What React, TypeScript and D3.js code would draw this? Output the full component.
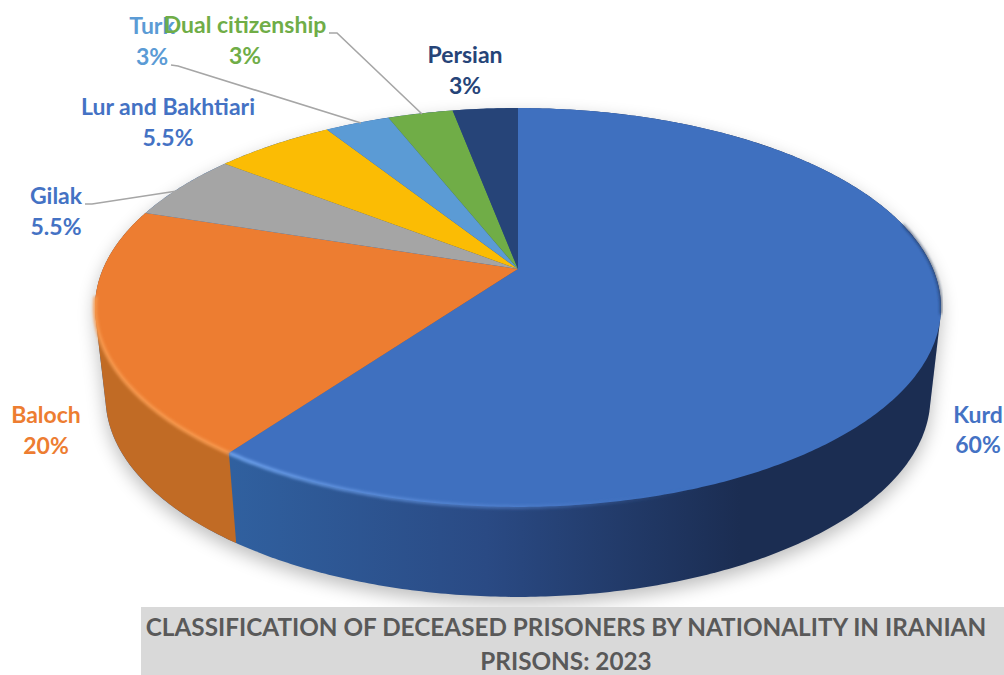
import React from "react";
import * as d3 from "d3";

const W = 1004;
const H = 675;

// Share of deaths per group, clockwise from twelve o'clock
const groups = ["Kurd", "Baloch", "Gilak", "Lur and Bakhtiari", "Turk", "Dual citizenship", "Persian"];
const shares = [60, 20, 5.5, 5.5, 3, 3, 3];
const shareLabels = ["60%", "20%", "5.5%", "5.5%", "3%", "3%", "3%"];
const fills = ["#3f70bf", "#ed7d31", "#a5a5a5", "#fbbc04", "#5b9bd5", "#70ad47", "#264478"];
const labelColors = ["#4472c4", "#ed7d31", "#4472c4", "#4472c4", "#5b9bd5", "#70ad47", "#264478"];
const titleLines = ["CLASSIFICATION OF DECEASED PRISONERS BY NATIONALITY IN IRANIAN", "PRISONS: 2023"];

// Label anchors, in pixels: centre x and the baselines of the name and the share
const labelAnchors: [number, number, number][] = [
  [978, 423, 453],
  [46, 423, 454],
  [56, 204, 235],
  [168, 115, 146],
  [152, 34, 65],
  [245, 33, 64],
  [465, 63, 94],
];

// Elbowed leader lines: group index and polyline
const leaders: { group: number; pts: [number, number][] }[] = [
  { group: 5, pts: [[329, 33], [337, 33], [422, 114]] },
  { group: 4, pts: [[171, 65], [178, 66], [361, 123]] },
  { group: 2, pts: [[85, 204], [92, 204], [177, 191]] },
];

// Perspective view of the disc: the hub sits above the centre of the drawn ellipse
const hub = { x: 518, y: 269 };
const tilt = 0.193;
const radiusX = 415;
const radiusY = 192;
const wallShift = 90;
const wallNarrowing = 0.975;

function project(theta: number, wall = false): [number, number] {
  const u = Math.sin(theta);
  const v = -Math.cos(theta);
  const d = 1 - tilt * v;
  const k = wall ? wallNarrowing : 1;
  return [hub.x + (k * radiusX * u) / d, hub.y + (wall ? wallShift : 0) + (radiusY * v) / d];
}

const pieAngles = d3.pie<number>().sort(null).value((d) => d)(shares);
const line = d3.line<[number, number]>();

function arcPoints(a: number, b: number, wall = false): [number, number][] {
  const n = Math.max(2, Math.ceil((b - a) / 0.01));
  return d3.range(n + 1).map((i) => project(a + ((b - a) * i) / n, wall));
}

function topPath(a: number, b: number): string {
  return line([[hub.x, hub.y], ...arcPoints(a, b)])! + "Z";
}

// Hull of the top and bottom rims over an angle range, so the silhouette runs straight between them
function hullPath(a: number, b: number): string {
  const hull = d3.polygonHull([...arcPoints(a, b), ...arcPoints(a, b, true)])!;
  return line(hull)! + "Z";
}

const fullTurn = Math.PI * 2;
const kurd = pieAngles[0];
const baloch = pieAngles[1];
const toRad = (deg: number) => (deg * Math.PI) / 180;

export default function App() {
  return (
    <svg
      width={W}
      height={H}
      viewBox={`0 0 ${W} ${H}`}
      style={{ position: "absolute", left: 0, top: 0, display: "block", background: "#fff" }}
      fontFamily="Lato, 'Open Sans', sans-serif"
      fontWeight={700}
    >
      <defs>
        <linearGradient id="kurdWall" gradientUnits="userSpaceOnUse" x1={233} x2={740} y1={0} y2={0}>
          <stop offset="0" stopColor="#30609f" />
          <stop offset="0.5" stopColor="#2a4a84" />
          <stop offset="1" stopColor="#1b2d52" />
        </linearGradient>
        <linearGradient id="kurdBevel" gradientUnits="userSpaceOnUse" x1={233} x2={700} y1={0} y2={0}>
          <stop offset="0" stopColor="#6fa3ee" stopOpacity={1} />
          <stop offset="0.6" stopColor="#5b8bd8" stopOpacity={0.55} />
          <stop offset="1" stopColor="#3f70bf" stopOpacity={0} />
        </linearGradient>
        <filter id="shadowBlur" x="-10%" y="-10%" width="120%" height="130%">
          <feGaussianBlur stdDeviation={9} />
        </filter>
        <filter id="edgeBlur" x="-5%" y="-5%" width="110%" height="110%">
          <feGaussianBlur stdDeviation={1.4} />
        </filter>
      </defs>

      <path d={hullPath(0, fullTurn)} fill="#000" opacity={0.26} transform="translate(0,7)" filter="url(#shadowBlur)" />

      {/* Side wall: the whole silhouette in the dark blue, then the orange section over it */}
      <path d={hullPath(0, fullTurn)} fill="url(#kurdWall)" />
      <path d={hullPath(baloch.startAngle, baloch.endAngle)} fill="#c16b25" />

      {/* Top face, one wedge per group */}
      {pieAngles.map((p, i) => (
        <path key={groups[i]} d={topPath(p.startAngle, p.endAngle)} fill={fills[i]} />
      ))}

      {/* Soft dark rim on the right shoulder */}
      <path
        d={line(arcPoints(toRad(76), toRad(103)))!}
        fill="none"
        stroke="#1b2d52"
        strokeWidth={1.6}
        filter="url(#edgeBlur)"
      />

      {/* Lit rim along the front edge */}
      <path
        d={line(arcPoints(toRad(125), kurd.endAngle))!}
        fill="none"
        stroke="url(#kurdBevel)"
        strokeWidth={3.5}
        filter="url(#edgeBlur)"
      />
      <path
        d={line(arcPoints(baloch.startAngle, toRad(262)))!}
        fill="none"
        stroke="#f79a50"
        strokeWidth={3.5}
        filter="url(#edgeBlur)"
      />

      {/* Leader lines */}
      {leaders.map((l) => (
        <path key={l.group} d={line(l.pts)!} fill="none" stroke="#a6a6a6" strokeWidth={1.6} />
      ))}

      {/* Category labels */}
      {groups.map((g, i) => {
        const [x, y1, y2] = labelAnchors[i];
        return (
          <g key={g} fill={labelColors[i]} textAnchor="middle" fontSize={23}>
            <text x={x} y={y1}>{g}</text>
            <text x={x} y={y2}>{shareLabels[i]}</text>
          </g>
        );
      })}

      {/* Title band */}
      <rect x={141} y={607} width={W - 141} height={H - 607} fill="#d9d9d9" />
      {titleLines.map((t, i) => (
        <text key={t} x={566} y={636 + i * 34} textAnchor="middle" fontSize={24.3} fill="#595959">
          {t}
        </text>
      ))}
    </svg>
  );
}
